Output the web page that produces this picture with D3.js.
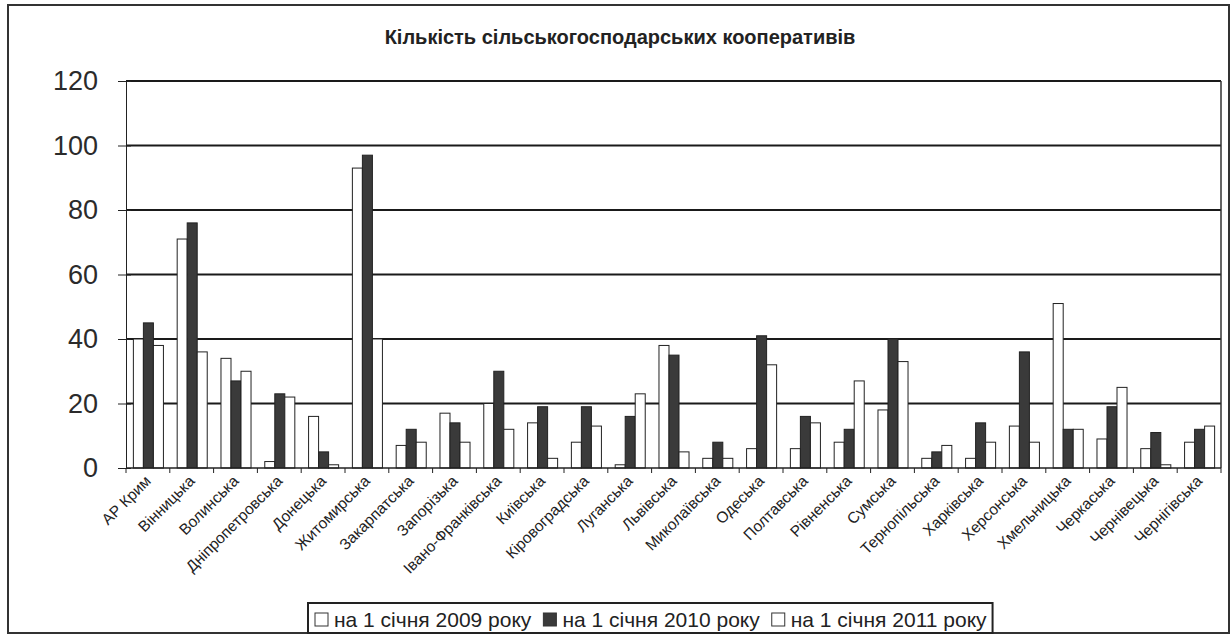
<!DOCTYPE html>
<html>
<head>
<meta charset="utf-8">
<script src="https://cdn.jsdelivr.net/npm/d3@7"></script>
<style>
  body { margin: 0; background: #fff; }
  svg { display: block; font-family: "Liberation Sans", Arial, sans-serif; }
</style>
</head>
<body>
<script>
// Data
const regions = ["АР Крим", "Вінницька", "Волинська", "Дніпропетровська", "Донецька",
  "Житомирська", "Закарпатська", "Запорізька", "Івано-Франківська", "Київська",
  "Кіровоградська", "Луганська", "Львівська", "Миколаївська", "Одеська", "Полтавська",
  "Рівненська", "Сумська", "Тернопільська", "Харківська", "Херсонська", "Хмельницька",
  "Черкаська", "Чернівецька", "Чернігівська"];
const seriesNames = ["на 1 січня 2009 року", "на 1 січня 2010 року", "на 1 січня 2011 року"];
const y2009 = [40, 71, 34, 2, 16, 93, 7, 17, 20, 14, 8, 1, 38, 3, 6, 6, 8, 18, 3, 3, 13, 51, 9, 6, 8];
const y2010 = [45, 76, 27, 23, 5, 97, 12, 14, 30, 19, 19, 16, 35, 8, 41, 16, 12, 40, 5, 14, 36, 12, 19, 11, 12];
const y2011 = [38, 36, 30, 22, 1, 40, 8, 8, 12, 3, 13, 23, 5, 3, 32, 14, 27, 33, 7, 8, 8, 12, 25, 1, 13];
const yTicks = [0, 20, 40, 60, 80, 100, 120];
const title = "Кількість сільськогосподарських кооперативів";

const W = 1231, H = 636;
const svg = d3.select("body").append("svg").attr("width", W).attr("height", H);

// outer frame
svg.append("rect")
  .attr("x", 8).attr("y", 5).attr("width", 1221).attr("height", 628)
  .attr("fill", "none").attr("stroke", "#333").attr("stroke-width", 2);

svg.append("text")
  .attr("x", 620).attr("y", 44)
  .attr("text-anchor", "middle")
  .style("font-family", "'Liberation Sans Narrow', 'Liberation Sans', Arial, sans-serif")
  .style("font-weight", "bold").style("font-size", "20px").attr("fill", "#222")
  .text(title);

const plot = { left: 126, right: 1221, top: 81, bottom: 468 };

const x0 = d3.scaleBand().domain(regions)
  .range([plot.left, plot.right])
  .paddingInner(0.314).paddingOuter(0.157);
const x1 = d3.scaleBand().domain(seriesNames).range([0, x0.bandwidth()]);
const y = d3.scaleLinear().domain([0, 120]).range([plot.bottom, plot.top]);

const values = [y2009, y2010, y2011];
const fills = ["#fff", "#3a3a3a", "#fff"];

// gridlines
svg.append("g").selectAll("line").data(yTicks.filter(d => d > 0)).enter().append("line")
  .attr("x1", plot.left).attr("x2", plot.right)
  .attr("y1", d => y(d)).attr("y2", d => y(d))
  .attr("stroke", "#1a1a1a").attr("stroke-width", 2);

// plot area right border
svg.append("line")
  .attr("x1", plot.right).attr("x2", plot.right)
  .attr("y1", plot.top).attr("y2", plot.bottom)
  .attr("stroke", "#333").attr("stroke-width", 1.5);

// y axis
const yAxis = svg.append("g")
  .attr("transform", `translate(${plot.left},0)`)
  .call(d3.axisLeft(y).tickValues(yTicks).tickSize(8).tickPadding(20));
yAxis.select(".domain").attr("stroke", "#222");
yAxis.selectAll(".tick line").attr("stroke", "#222").attr("x2", -8).attr("x1", 5);
yAxis.selectAll(".tick text")
  .style("font-family", "'Liberation Sans', Arial, sans-serif")
  .style("font-size", "27px").attr("fill", "#2b2b2b");

// bars
const groups = svg.append("g").selectAll("g").data(regions).enter().append("g")
  .attr("transform", d => `translate(${x0(d)},0)`);
groups.selectAll("rect")
  .data((d, i) => seriesNames.map((s, k) => ({ s, k, v: values[k][i] })))
  .enter().append("rect")
  .attr("x", d => x1(d.s) + 0.5)
  .attr("y", d => y(d.v))
  .attr("width", x1.bandwidth())
  .attr("height", d => y(0) - y(d.v))
  .attr("fill", d => fills[d.k])
  .attr("stroke", "#222").attr("stroke-width", 1);

// x axis
const step = x0.step();
const xAxis = svg.append("g").attr("transform", `translate(0,${plot.bottom})`);
xAxis.append("line").attr("x1", plot.left).attr("x2", plot.right)
  .attr("stroke", "#222").attr("stroke-width", 1.5);
xAxis.selectAll("line.tick").data(d3.range(regions.length + 1)).enter().append("line")
  .attr("class", "tick")
  .attr("x1", i => plot.left + i * step).attr("x2", i => plot.left + i * step)
  .attr("y1", 0).attr("y2", 5).attr("stroke", "#222");
xAxis.selectAll("text").data(regions).enter().append("text")
  .attr("transform", d => `translate(${x0(d) + x0.bandwidth() / 2 + 4},14) rotate(-45)`)
  .attr("text-anchor", "end")
  .style("font-size", "15.5px").attr("fill", "#222")
  .text(d => d);

// legend
const leg = svg.append("g");
const legX = 308, legY = 603, legH = 30;
let cx = legX + 7;
const legItems = leg.selectAll("g").data(seriesNames).enter().append("g");
legItems.each(function (d, k) {
  const g = d3.select(this);
  g.append("rect").attr("x", cx).attr("y", legY + 10).attr("width", 13).attr("height", 13)
    .attr("fill", fills[k]).attr("stroke", "#333");
  const t = g.append("text").attr("x", cx + 19).attr("y", legY + 24)
    .style("font-size", "21px").attr("fill", "#222").text(d);
  cx += 19 + t.node().getComputedTextLength() + 12;
});
leg.insert("rect", ":first-child")
  .attr("x", legX).attr("y", legY).attr("width", cx - legX - 6).attr("height", legH)
  .attr("fill", "#fff").attr("stroke", "#222").attr("stroke-width", 2);
</script>
</body>
</html>
